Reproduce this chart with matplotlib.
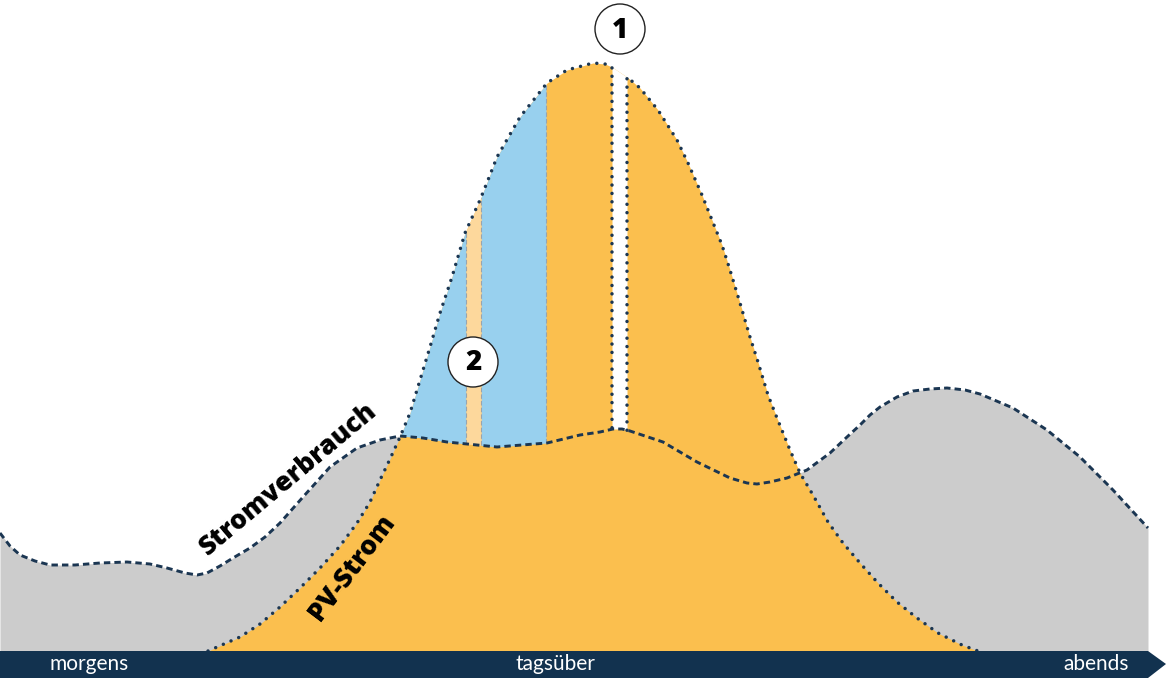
"""
PV-Strom vs. Stromverbrauch im Tagesverlauf (Schema).
Werte in Pixel-Einheiten der Vorlage: x = Zeit, h = Leistung über der Grundlinie.
"""

import numpy as np
import matplotlib
matplotlib.use("Agg")
import matplotlib.pyplot as plt
from matplotlib.patches import Polygon, Circle

plt.rcParams["font.family"] = ["Lato", "DejaVu Sans"]

# --- Daten -------------------------------------------------------------
BASE_Y = 651  # Grundlinie (Oberkante Zeitachse) in Bildpixeln

cons_x = [0, 10, 20, 35, 50, 75, 100, 127, 150, 167, 185, 197, 207, 220, 233,
          250, 265, 280, 303, 330, 357, 380, 400, 423, 447, 497, 547, 580,
          600, 613, 622, 630, 645, 663, 697, 730, 747, 757, 770, 787, 807,
          830, 847, 860, 870, 880, 897, 913, 930, 947, 965, 980, 1013, 1047,
          1080, 1113, 1148]
cons_y = [533, 546, 555, 561, 565, 565, 563, 562, 564, 568, 573, 575, 573, 566, 558,
          548, 537, 523, 497, 467, 448, 440, 436, 438, 442, 447, 443, 435,
          432, 429, 429, 431, 436, 442, 462, 478, 483, 484, 482, 478, 470,
          453, 437, 425, 415, 407, 397, 391, 389, 388, 390, 394, 408, 430,
          457, 490, 528]

pv_x = [208, 240, 260, 280, 300, 320, 340, 357, 370, 380, 390, 400, 410, 420,
        430, 440, 452, 465, 480, 488, 497, 520, 547, 567, 593, 605, 612, 627,
        640, 658, 677, 688, 702, 712, 722, 730, 740, 750, 758, 768, 777, 790,
        800, 813, 828, 843, 860, 878, 897, 917, 938, 962, 978]
pv_y = [651, 637, 624, 607, 588, 568, 546, 523, 502, 480, 459, 437, 413, 380,
        347, 313, 277, 233, 200, 180, 157, 117, 83, 70, 63, 64, 67, 77,
        88, 110, 140, 163, 195, 220, 245, 270, 303, 337, 362, 395, 418, 450,
        473, 495, 522, 543, 563, 583, 602, 618, 633, 645, 651]

cons_h = BASE_Y - np.array(cons_y, dtype=float)
pv_h = BASE_Y - np.array(pv_y, dtype=float)

# Abschnitte oberhalb des Verbrauchs (Überschuss)
blue_ranges = [(400, 466), (481, 546)]
strip_range = (466, 481)       # (2)
gap_range = (612, 627)         # (1)

time_labels = ["morgens", "tagsüber", "abends"]
time_label_x = [89, 555, 1096]

markers = [("1", 620, 622), ("2", 473, 289)]  # label, x, h

# --- Farben --------------------------------------------------------------
GREY = "#CCCCCC"
ORANGE = "#FBBF4E"
BLUE = "#98D0EE"
LIGHT_ORANGE = "#FDD89C"
NAVY = "#12324F"
LINE = "#1B3652"
BOLD_FONT = ["Open Sans", "DejaVu Sans"]

fig = plt.figure(figsize=(11.74, 6.87), dpi=100)
ax = fig.add_axes([0, 0, 1, 1])
ax.set_xlim(0, 1174)
ax.set_ylim(BASE_Y - 687, BASE_Y)
ax.axis("off")

# Flächen
ax.fill_between(cons_x, cons_h, 0, color=GREY, lw=0, zorder=1)
ax.fill_between(pv_x, pv_h, 0, color=ORANGE, lw=0, zorder=2)

grid = np.arange(400, 800.5, 0.5)
g_cons = np.interp(grid, cons_x, cons_h)
g_pv = np.interp(grid, pv_x, pv_h)


def fill_band(x0, x1, color):
    m = (grid >= x0) & (grid <= x1)
    ax.fill_between(grid[m], g_cons[m], g_pv[m], color=color, lw=0, zorder=3)


for x0, x1 in blue_ranges:
    fill_band(x0, x1, BLUE)
fill_band(*strip_range, LIGHT_ORANGE)
fill_band(*gap_range, "white")

# feine Trennlinien
for xv in [strip_range[0], strip_range[1], 546]:
    ax.plot([xv, xv], [np.interp(xv, cons_x, cons_h), np.interp(xv, pv_x, pv_h)],
            color="#9AA4AC", lw=0.8, ls=(0, (4, 2)), zorder=4)

# Verbrauchskurve (gestrichelt)
ax.plot(cons_x, cons_h, color=LINE, lw=2.1, ls=(0, (2.2, 1.4)), zorder=6)

# PV-Kurve (gepunktet) mit Lücke bei (1)
dot = dict(color=LINE, lw=2.5, ls=(0, (0.01, 2.4)), dash_capstyle="round",
           solid_capstyle="round", zorder=5)
gx0, gx1 = gap_range
left = [x for x in pv_x if x <= gx0]
right = [x for x in pv_x if x >= gx1]
lx = left + [gx0]
lh = list(pv_h[:len(left)]) + [np.interp(gx0, cons_x, cons_h)]
ax.plot(lx, lh, **dot)
rx = [gx1] + right
rh = [np.interp(gx1, cons_x, cons_h)] + list(pv_h[len(pv_x) - len(right):])
ax.plot(rx, rh, **dot)

# Zeitachse als Pfeilband
band = Polygon([(0, 0), (1148, 0), (1166, -13), (1148, -27), (0, -27)],
               closed=True, color=NAVY, lw=0, zorder=7)
ax.add_patch(band)
for lab, xv in zip(time_labels, time_label_x):
    ax.text(xv, -13.5, lab, color="white", fontsize=15, ha="center",
            va="center", fontweight="normal", zorder=8)

# Kurvenbeschriftungen
ax.text(289, BASE_Y - 479, "Stromverbrauch", fontsize=19, fontweight="heavy",
        rotation=40, ha="center", va="center", rotation_mode="anchor",
        family=BOLD_FONT, zorder=8)
ax.text(352, BASE_Y - 568, "PV-Strom", fontsize=19, fontweight="heavy",
        rotation=53, ha="center", va="center", rotation_mode="anchor",
        family=BOLD_FONT, zorder=8)

# Markierungen (1), (2)
for lab, xv, hv in markers:
    ax.add_patch(Circle((xv, hv), 25, facecolor="white", edgecolor="#222222",
                        lw=1.0, zorder=9))
    ax.text(xv, hv - 1, lab, fontsize=20, fontweight="heavy", ha="center",
            va="center", family=BOLD_FONT, zorder=10)

fig.savefig("out.png", dpi=100)
plt.close(fig)
